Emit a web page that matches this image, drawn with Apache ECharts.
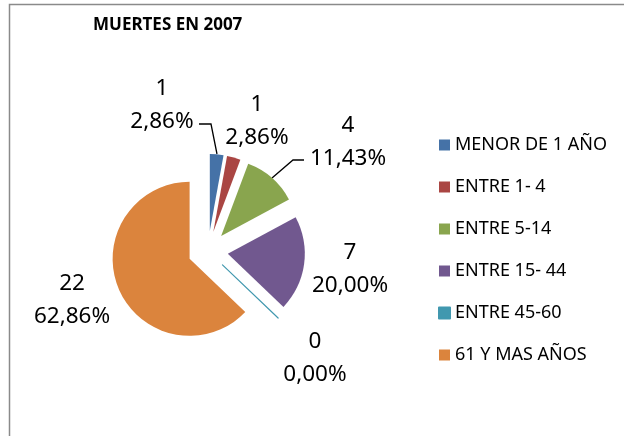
<!DOCTYPE html>
<html>
<head>
<meta charset="utf-8">
<script src="https://cdn.jsdelivr.net/npm/echarts@6/dist/echarts.min.js"></script>
<style>html,body{margin:0;padding:0;background:#fff;}#c{width:624px;height:436px;}</style>
</head>
<body>
<div id="c"></div>
<script>
var categories = ['MENOR DE 1 AÑO', 'ENTRE 1- 4', 'ENTRE 5-14', 'ENTRE 15- 44', 'ENTRE 45-60', '61 Y MAS AÑOS'];
var counts = [1, 1, 4, 7, 0, 22];
var percentLabels = ['2,86%', '2,86%', '11,43%', '20,00%', '0,00%', '62,86%'];
var colors = ['#4572A7', '#AA4643', '#89A54E', '#71588F', '#4198AF', '#DB843D'];
var titleText = 'MUERTES EN 2007';

// label block centres (layout)
var labelPos = [[162, 105], [257, 121], [348, 142], [350, 269], [315, 358], [72, 300]];
var leaderLines = {
  0: [[199, 124], [211, 124], [217, 154]],
  2: [[304, 160], [293, 160], [272, 178]]
};

var chart = echarts.init(document.getElementById('c'), null, {renderer: 'canvas'});
var sliceData = categories.map(function (name, i) {
  var item = {
    name: name,
    value: counts[i],
    selected: true,
    itemStyle: {color: colors[i]}
  };
  if (counts[i] === 0) {
    item.itemStyle = {color: colors[i], borderColor: colors[i], borderWidth: 1.2};
  }
  return item;
});
var labelData = categories.map(function (name, i) {
  return {
    name: name,
    value: counts[i],
    itemStyle: {color: 'rgba(0,0,0,0)', borderWidth: 0},
    labelLine: {show: !!leaderLines[i]}
  };
});

chart.setOption({
  animation: false,
  backgroundColor: '#ffffff',
  color: colors,
  graphic: [{
    type: 'rect',
    shape: {x: 9.5, y: 4.5, width: 700, height: 600},
    style: {fill: null, stroke: '#8a8a8a', lineWidth: 1.5},
    silent: true
  }],
  title: {
    text: titleText,
    left: 93,
    top: 15,
    padding: 0,
    textStyle: {fontFamily: 'Noto Sans', fontWeight: 'bold', fontSize: 17, color: '#000', lineHeight: 20}
  },
  legend: {
    orient: 'vertical',
    left: 438,
    top: 135,
    padding: 0,
    itemWidth: 11,
    itemHeight: 11,
    itemGap: 22,
    icon: 'rect',
    data: categories.map(function (n, i) { return {name: n, itemStyle: {color: colors[i]}}; }),
    selectedMode: false,
    textStyle: {fontFamily: 'Noto Sans', fontSize: 18, color: '#000', lineHeight: 20}
  },
  series: [{
    type: 'pie',
    name: 'slices',
    center: [208, 251],
    radius: 77,
    startAngle: 90,
    clockwise: true,
    selectedMode: 'multiple',
    selectedOffset: 20,
    emphasis: {disabled: true},
    itemStyle: {borderWidth: 0},
    label: {show: false},
    labelLine: {show: false},
    data: sliceData
  }, {
    type: 'pie',
    name: 'labels',
    center: [208, 251],
    radius: 77,
    startAngle: 90,
    clockwise: true,
    silent: true,
    selectedMode: false,
    avoidLabelOverlap: false,
    emphasis: {disabled: true},
    label: {
      show: true,
      position: 'outside',
      fontFamily: 'Noto Sans',
      fontSize: 22.5,
      lineHeight: 33,
      color: '#000',
      align: 'center',
      formatter: function (p) { return p.value + '\n' + percentLabels[p.dataIndex]; }
    },
    labelLine: {show: true, lineStyle: {color: '#000', width: 1.3}, length: 10, length2: 10},
    labelLayout: function (params) {
      var i = params.dataIndex;
      var res = {x: labelPos[i][0], y: labelPos[i][1], align: 'center', verticalAlign: 'middle', hideOverlap: false};
      if (leaderLines[i]) res.labelLinePoints = leaderLines[i];
      return res;
    },
    data: labelData
  }]
});
</script>
</body>
</html>
